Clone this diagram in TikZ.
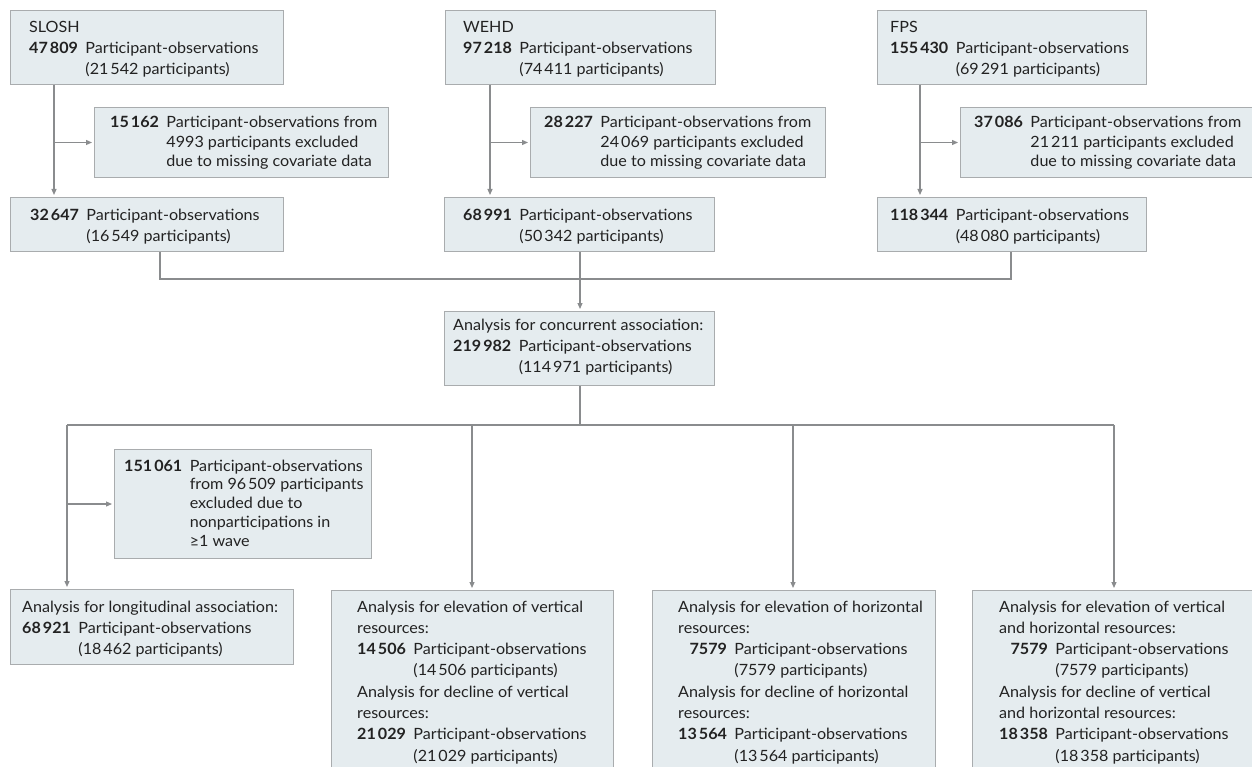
\documentclass[tikz,border=0pt]{standalone}
\usepackage{fontspec}
\setmainfont{Lato}[FakeStretch=1.04]
\usetikzlibrary{arrows.meta}
\definecolor{boxfill}{HTML}{E5ECEF}
\definecolor{boxline}{HTML}{A9ACAE}
\definecolor{conn}{HTML}{8A8C8E}
\definecolor{txtc}{HTML}{222222}
\newcommand\ts{\kern0.13em}
\newcommand\mainfs{\fontsize{15.5}{21}\selectfont}
\newcommand\exfs{\fontsize{15.5}{19.5}\selectfont}
\newenvironment{numtab}{\begin{tabular}[t]{@{}r@{\hspace{7.5pt}}l@{}}}{\end{tabular}}
\newcommand\hd[1]{\multicolumn{2}{@{}l@{}}{#1}}
\tikzset{
  x=1pt, y=-1pt,
  box/.style={draw=boxline, fill=boxfill, line width=1pt, rectangle, anchor=north west, inner sep=0pt},
  txt/.style={anchor=base west, inner sep=0pt, text=txtc, font=\mainfs},
  extxt/.style={anchor=base west, inner sep=0pt, text=txtc, font=\exfs},
  line/.style={draw=conn, line width=1.2pt},
  arr/.style={draw=conn, line width=1.2pt, -{Triangle[length=6pt,width=5pt]}, shorten >=2pt}
}
\begin{document}
\begin{tikzpicture}
\useasboundingbox (0,0) rectangle (1252,767);
\clip (0,0) rectangle (1252,767);
% top row
\node[box, minimum width=273pt, minimum height=74pt] (sl) at (10,10) {};
\node[box, minimum width=270pt, minimum height=74pt] (we) at (445,10) {};
\node[box, minimum width=269pt, minimum height=74pt] (fp) at (877,10) {};
\node[txt] (slt) at (29,33) {\begin{numtab}\hd{SLOSH}\\ \textbf{47\ts809} & Participant-observations\\ & (21\ts542 participants)\end{numtab}};
\node[txt] (wet) at (463,33) {\begin{numtab}\hd{WEHD}\\ \textbf{97\ts218} & Participant-observations\\ & (74\ts411 participants)\end{numtab}};
\node[txt] (fpt) at (890,33) {\begin{numtab}\hd{FPS}\\ \textbf{155\ts430} & Participant-observations\\ & (69\ts291 participants)\end{numtab}};
% exclusions
\node[box, minimum width=294pt, minimum height=70pt] (exa) at (94,107) {};
\node[box, minimum width=295pt, minimum height=70pt] (exb) at (530,107) {};
\node[box, minimum width=300pt, minimum height=70pt] (exc) at (960,107) {};
\node[extxt] (exat) at (110,128) {\begin{numtab}\textbf{15\ts162} & Participant-observations from\\ & 4993 participants excluded\\ & due to missing covariate data\end{numtab}};
\node[extxt] (exbt) at (544,128) {\begin{numtab}\textbf{28\ts227} & Participant-observations from\\ & 24\ts069 participants excluded\\ & due to missing covariate data\end{numtab}};
\node[extxt] (exct) at (974,128) {\begin{numtab}\textbf{37\ts086} & Participant-observations from\\ & 21\ts211 participants excluded\\ & due to missing covariate data\end{numtab}};
% second row
\node[box, minimum width=273pt, minimum height=54pt] (sl2) at (10,197) {};
\node[box, minimum width=270pt, minimum height=54pt] (we2) at (444,197) {};
\node[box, minimum width=269pt, minimum height=54pt] (fp2) at (877,197) {};
\node[txt] (sl2t) at (30,221) {\begin{numtab}\textbf{32\ts647} & Participant-observations\\ & (16\ts549 participants)\end{numtab}};
\node[txt] (we2t) at (463,221) {\begin{numtab}\textbf{68\ts991} & Participant-observations\\ & (50\ts342 participants)\end{numtab}};
\node[txt] (fp2t) at (890,221) {\begin{numtab}\textbf{118\ts344} & Participant-observations\\ & (48\ts080 participants)\end{numtab}};
% concurrent
\node[box, minimum width=270pt, minimum height=74pt] (conc) at (444,311) {};
\node[txt] (conct) at (453,330) {\begin{numtab}\hd{Analysis for concurrent association:}\\ \textbf{219\ts982} & Participant-observations\\ & (114\ts971 participants)\end{numtab}};
% exclusion longitudinal
\node[box, minimum width=257pt, minimum height=109pt] (exl) at (114,449) {};
\node[extxt, font=\fontsize{15.5}{18.8}\selectfont] (exlt) at (124,471) {\begin{numtab}\textbf{151\ts061} & Participant-observations\\ & from 96\ts509 participants\\ & excluded due to\\ & nonparticipations in\\ & ≥1 wave\end{numtab}};
% bottom row
\node[box, minimum width=283pt, minimum height=75pt] (lon) at (10,589) {};
\node[txt] (lont) at (22,612) {\begin{numtab}\hd{Analysis for longitudinal association:}\\ \textbf{68\ts921} & Participant-observations\\ & (18\ts462 participants)\end{numtab}};
\node[box, minimum width=282pt, minimum height=200pt] (ev) at (331,590) {};
\node[box, minimum width=283pt, minimum height=200pt] (eh) at (652,590) {};
\node[box, minimum width=290pt, minimum height=200pt] (evh) at (972,590) {};
\node[txt, font=\fontsize{15.5}{21.3}\selectfont] (evt) at (357,612) {\begin{numtab}\hd{Analysis for elevation of vertical}\\ \hd{resources:}\\ \textbf{14\ts506} & Participant-observations\\ & (14\ts506 participants)\\ \hd{Analysis for decline of vertical}\\ \hd{resources:}\\ \textbf{21\ts029} & Participant-observations\\ & (21\ts029 participants)\end{numtab}};
\node[txt, font=\fontsize{15.5}{21.3}\selectfont] (eht) at (678,612) {\begin{numtab}\hd{Analysis for elevation of horizontal}\\ \hd{resources:}\\ \textbf{7579} & Participant-observations\\ & (7579 participants)\\ \hd{Analysis for decline of horizontal}\\ \hd{resources:}\\ \textbf{13\ts564} & Participant-observations\\ & (13\ts564 participants)\end{numtab}};
\node[txt, font=\fontsize{15.5}{21.3}\selectfont] (evht) at (999,612) {\begin{numtab}\hd{Analysis for elevation of vertical}\\ \hd{and horizontal resources:}\\ \textbf{7579} & Participant-observations\\ & (7579 participants)\\ \hd{Analysis for decline of vertical}\\ \hd{and horizontal resources:}\\ \textbf{18\ts358} & Participant-observations\\ & (18\ts358 participants)\end{numtab}};
% trunk coordinates
\coordinate (tA) at (54,0);
\coordinate (tB) at (490,0);
\coordinate (tC) at (920,0);
\coordinate (mA) at (160,279);
\coordinate (mB) at (580,279);
\coordinate (mC) at (1011,279);
\coordinate (b1) at (67,425);
\coordinate (b2) at (472,425);
\coordinate (b3) at (580,425);
\coordinate (b4) at (793,425);
\coordinate (b5) at (1114,425);
% top connectors
\draw[arr] (sl.south -| tA) -- (sl2.north -| tA);
\draw[arr] (exa.west -| tA) -- (exa.west);
\draw[arr] (we.south -| tB) -- (we2.north -| tB);
\draw[arr] (exb.west -| tB) -- (exb.west);
\draw[arr] (fp.south -| tC) -- (fp2.north -| tC);
\draw[arr] (exc.west -| tC) -- (exc.west);
% merge
\draw[line] (sl2.south -| mA) -- (mA) -- (mC) -- (fp2.south -| mC);
\draw[line] (we2.south -| mB) -- (mB);
\draw[arr] (mB) -- (conc.north -| mB);
% split
\draw[line] (conc.south -| b3) -- (b3);
\draw[line] (b1) -- (b5);
\draw[arr] (b1) -- (lon.north -| b1);
\draw[arr] (exl.west -| b1) -- (exl.west);
\draw[arr] (b2) -- (ev.north -| b2);
\draw[arr] (b4) -- (eh.north -| b4);
\draw[arr] (b5) -- (evh.north -| b5);
\end{tikzpicture}
\end{document}
